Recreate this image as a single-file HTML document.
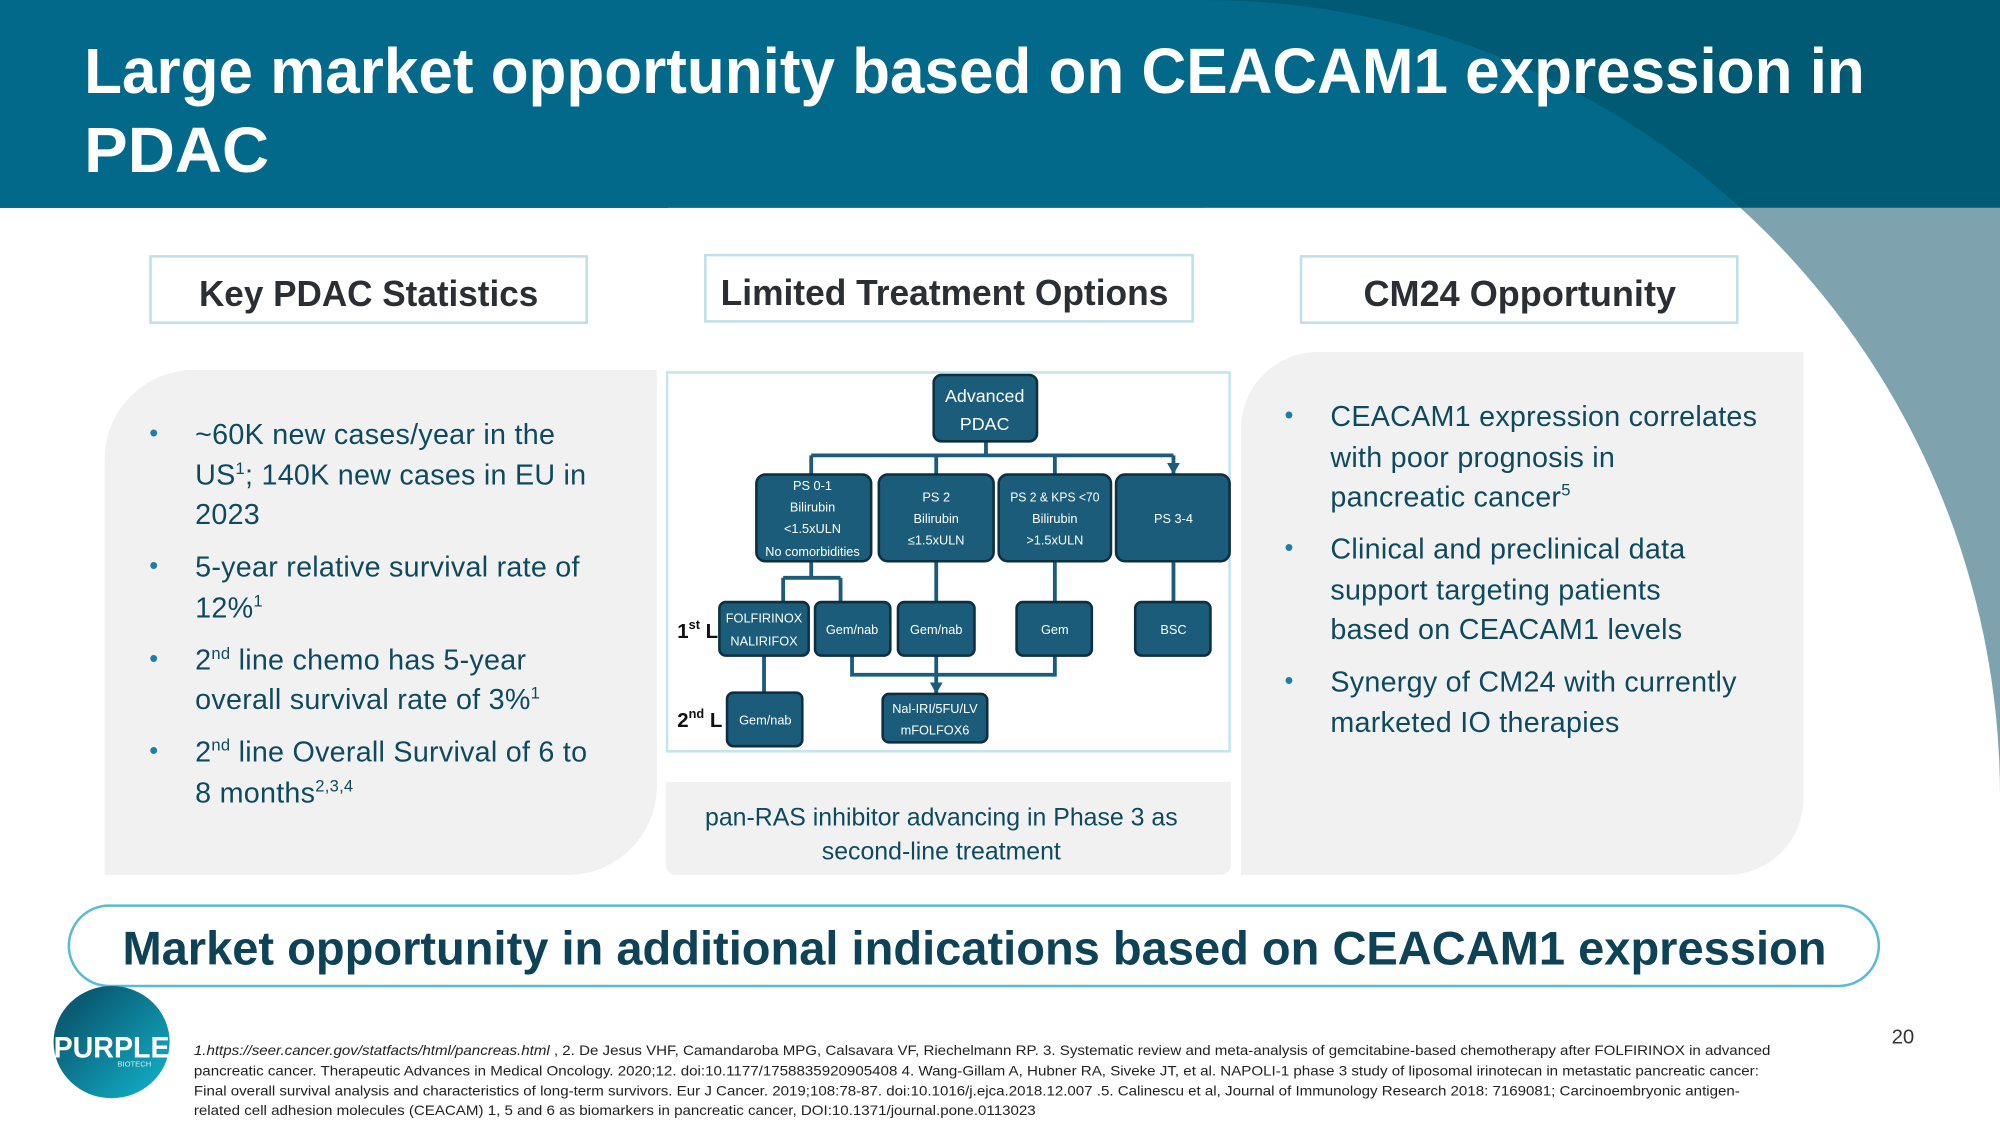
<!DOCTYPE html>
<html><head><meta charset="utf-8"><style>
html,body{margin:0;padding:0;width:2000px;height:1125px;overflow:hidden;background:#fff}
#o{position:absolute;left:0;top:0;width:2000px;height:1125px;overflow:hidden}
#w{position:absolute;left:0;top:0;width:1568px;height:882px;transform:scale(1.27551);transform-origin:0 0;overflow:hidden;font-family:"Liberation Sans",sans-serif}
.abs{position:absolute}
.hdb{position:absolute;border:2px solid #bfe0ea;background:#fff;box-sizing:border-box}
.panel{position:absolute;background:#f1f1f1}
ul{margin:0;padding:0;list-style:none}
li{position:relative;color:#0e4a5f;font-size:22.5px;line-height:31.5px;margin-bottom:9.5px;white-space:nowrap;letter-spacing:0.2px}
li:before{content:"•";position:absolute;left:-36px;color:#1c7fa6;font-size:20px}
sup{font-size:13px;line-height:0}
</style></head><body><div id="o"><div id="w">
<svg class="abs" style="left:0;top:0" width="1568" height="882">
<defs><clipPath id="hc"><rect x="0" y="0" width="1568" height="163"/></clipPath><clipPath id="bc"><rect x="0" y="163" width="1568" height="719"/></clipPath></defs>
<rect x="0" y="0" width="1568" height="163" fill="#005a73"/>
<rect x="0" y="0" width="944" height="163" fill="#02698a"/>
<circle cx="944" cy="624" r="624" fill="#02698a" clip-path="url(#hc)"/>
<rect x="944" y="163" width="624" height="461" fill="#7fa3ae"/>
<circle cx="944" cy="624" r="624" fill="#fff" clip-path="url(#bc)"/>
</svg>

<div class="hdb" style="left:117px;top:200px;width:344px;height:54px"></div>
<div class="hdb" style="left:552px;top:199px;width:384px;height:54px"></div>
<div class="hdb" style="left:1019px;top:200px;width:344px;height:54px"></div>

<div class="panel" style="left:82px;top:290px;width:433px;height:396px;border-radius:70px 0 70px 0"></div>
<div class="abs" style="left:153px;top:325px"><ul>
<li>~60K new cases/year in the<br>US<sup>1</sup>; 140K new cases in EU in<br>2023</li>
<li>5-year relative survival rate of<br>12%<sup>1</sup></li>
<li>2<sup>nd</sup> line chemo has 5-year<br>overall survival rate of 3%<sup>1</sup></li>
<li>2<sup>nd</sup> line Overall Survival of 6 to<br>8 months<sup>2,3,4</sup></li></ul></div>

<div class="panel" style="left:973px;top:276px;width:441px;height:410px;border-radius:60px 0 60px 0"></div>
<div class="abs" style="left:1043px;top:311px"><ul>
<li>CEACAM1 expression correlates<br>with poor prognosis in<br>pancreatic cancer<sup>5</sup></li>
<li>Clinical and preclinical data<br>support targeting patients<br>based on CEACAM1 levels</li>
<li>Synergy of CM24 with currently<br>marketed IO therapies</li></ul></div>

<div class="abs" style="left:522px;top:291px;width:443px;height:299px;border:2px solid #c4e4ee;box-sizing:border-box;background:#fff"></div>
<div class="panel" style="left:522px;top:613px;width:443px;height:73px;border-radius:0 0 8px 8px"></div>
<div class="abs" style="left:53px;top:709px;width:1421px;height:65px;border:2.5px solid #5bbbd4;border-radius:33px;box-sizing:border-box;background:#fff"></div>
<div class="abs" style="left:42px;top:773px;width:91px;height:88px;border-radius:50%;background:linear-gradient(135deg,#0a5c74 20%,#12b6cf 100%)"></div>

<svg class="abs" style="left:0;top:0" width="1568" height="882" font-family="Liberation Sans, sans-serif">
<defs><marker id="a" viewBox="0 0 10 9" markerWidth="10" markerHeight="9" refX="5" refY="9" orient="0" markerUnits="userSpaceOnUse"><path d="M0,0 L10,0 L5,9 z" fill="#1a5c7a"/></marker></defs>
<g fill="#fff" font-weight="bold">
<text x="66" y="73" font-size="50" textLength="1396" lengthAdjust="spacingAndGlyphs">Large market opportunity based on CEACAM1 expression in</text>
<text x="66" y="135" font-size="50" textLength="145" lengthAdjust="spacingAndGlyphs">PDAC</text>
</g>
<g fill="#2b2f33" font-weight="bold" font-size="28">
<text x="156" y="240" textLength="266" lengthAdjust="spacingAndGlyphs">Key PDAC Statistics</text>
<text x="565" y="239" textLength="351" lengthAdjust="spacingAndGlyphs">Limited Treatment Options</text>
<text x="1069" y="240" textLength="245" lengthAdjust="spacingAndGlyphs">CM24 Opportunity</text>
</g>
<text x="96" y="756" font-size="37" font-weight="bold" fill="#0d4257" textLength="1336" lengthAdjust="spacingAndGlyphs">Market opportunity in additional indications based on CEACAM1 expression</text>
<g fill="#0e4a5f" font-size="19.5" text-anchor="middle">
<text x="738" y="647">pan-RAS inhibitor advancing in Phase 3 as</text>
<text x="738" y="674">second-line treatment</text>
</g>
<g stroke="#1a5c7a" stroke-width="3" fill="none">
<path d="M773,346 V357 M636,357 H920"/>
<path d="M636,357 V372 M734,357 V372 M827,357 V372 M920,357 V372" marker-end="url(#a)"/>
<path d="M636,440 V453 M614,453 H659"/>
<path d="M614,453 V472 M659,453 V472 M734,440 V472 M827,440 V472 M920,440 V472 M599,514 V543 M734,514 V544" marker-end="url(#a)"/>
<path d="M668,514 V529 H827 V514"/>
</g>
<g fill="#1a5c7a" stroke="#0d2f40" stroke-width="2">
<rect x="732" y="294" width="81" height="52" rx="6"/>
<rect x="593" y="372" width="90" height="68" rx="7"/>
<rect x="689" y="372" width="90" height="68" rx="7"/>
<rect x="783" y="372" width="88" height="68" rx="7"/>
<rect x="875" y="372" width="89" height="68" rx="7"/>
<rect x="564" y="472" width="70" height="42" rx="5"/>
<rect x="639" y="472" width="59" height="42" rx="5"/>
<rect x="704" y="472" width="60" height="42" rx="5"/>
<rect x="797" y="472" width="59" height="42" rx="5"/>
<rect x="890" y="472" width="59" height="42" rx="5"/>
<rect x="570" y="543" width="59" height="42" rx="5"/>
<rect x="692" y="544" width="82" height="38" rx="5"/>
</g>
<g fill="#fff" text-anchor="middle" font-size="10">
<text x="772" y="315" font-size="14">Advanced</text><text x="772" y="337" font-size="14">PDAC</text>
<text x="637" y="384">PS 0-1</text><text x="637" y="401">Bilirubin</text><text x="637" y="418">&lt;1.5xULN</text><text x="637" y="436" textLength="74" lengthAdjust="spacingAndGlyphs">No comorbidities</text>
<text x="734" y="393">PS 2</text><text x="734" y="410">Bilirubin</text><text x="734" y="427">≤1.5xULN</text>
<text x="827" y="393" textLength="70" lengthAdjust="spacingAndGlyphs">PS 2 &amp; KPS &lt;70</text><text x="827" y="410">Bilirubin</text><text x="827" y="427">&gt;1.5xULN</text>
<text x="920" y="410">PS 3-4</text>
<text x="599" y="488">FOLFIRINOX</text><text x="599" y="506">NALIRIFOX</text>
<text x="668" y="497">Gem/nab</text><text x="734" y="497">Gem/nab</text><text x="827" y="497">Gem</text><text x="920" y="497">BSC</text>
<text x="600" y="568">Gem/nab</text>
<text x="733" y="559">Nal-IRI/5FU/LV</text><text x="733" y="576">mFOLFOX6</text>
</g>
<g fill="#111" font-size="16" font-weight="bold">
<text x="531" y="500">1<tspan font-size="10" dy="-7">st</tspan><tspan dy="7"> L</tspan></text>
<text x="531" y="570">2<tspan font-size="10" dy="-7">nd</tspan><tspan dy="7"> L</tspan></text>
</g>
<text x="42" y="829" fill="#fff" font-weight="bold" font-size="23" textLength="91" lengthAdjust="spacingAndGlyphs">PURPLE</text>
<text x="92" y="836" fill="#cfeff5" font-size="6">BIOTECH</text>
<text x="1483" y="818" font-size="16" fill="#333">20</text>
<g fill="#222" font-size="11">
<text x="152" y="827" textLength="1236" lengthAdjust="spacingAndGlyphs"><tspan font-style="italic">1.https://seer.cancer.gov/statfacts/html/pancreas.html</tspan> , 2. De Jesus VHF, Camandaroba MPG, Calsavara VF, Riechelmann RP. 3. Systematic review and meta-analysis of gemcitabine-based chemotherapy after FOLFIRINOX in advanced</text>
<text x="152" y="843" textLength="1227" lengthAdjust="spacingAndGlyphs">pancreatic cancer. Therapeutic Advances in Medical Oncology. 2020;12. doi:10.1177/1758835920905408 4. Wang-Gillam A, Hubner RA, Siveke JT, et al. NAPOLI-1 phase 3 study of liposomal irinotecan in metastatic pancreatic cancer:</text>
<text x="152" y="859" textLength="1212" lengthAdjust="spacingAndGlyphs">Final overall survival analysis and characteristics of long-term survivors. Eur J Cancer. 2019;108:78-87. doi:10.1016/j.ejca.2018.12.007 .5. Calinescu et al, Journal of Immunology Research 2018: 7169081; Carcinoembryonic antigen-</text>
<text x="152" y="874" textLength="660" lengthAdjust="spacingAndGlyphs">related cell adhesion molecules (CEACAM) 1, 5 and 6 as biomarkers in pancreatic cancer, DOI:10.1371/journal.pone.0113023</text>
</g>
</svg>
</div></div></body></html>
